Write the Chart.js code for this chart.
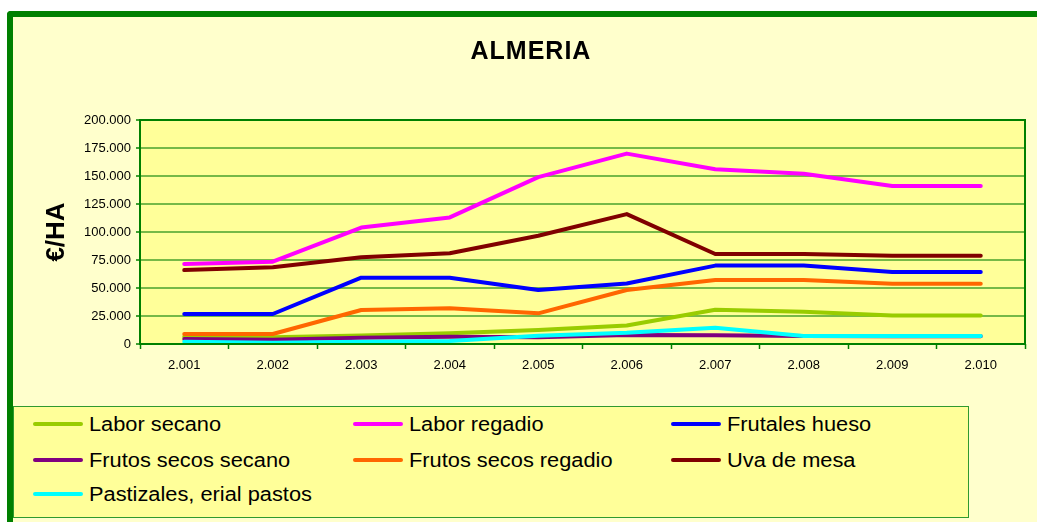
<!DOCTYPE html>
<html>
<head>
<meta charset="utf-8">
<script src="https://cdn.jsdelivr.net/npm/chart.js@4.4.1/dist/chart.umd.min.js"></script>
<style>
  html, body { margin: 0; padding: 0; background: #ffffff; }
  body { width: 1037px; height: 522px; overflow: hidden; position: relative; font-family: "Liberation Sans", Arial, sans-serif; }
  #frame { position: absolute; left: 7px; top: 11px; width: 1100px; height: 600px; background: #FFFFCC;
           border-left: 6px solid #008000; border-top: 6px solid #008000; border-top-left-radius: 4px; }
  #chart { position: absolute; left: 0; top: 0; }
  #title { position: absolute; left: 331px; width: 400px; top: 34px; text-align: center; font-weight: bold;
           font-size: 25px; letter-spacing: 1px; color: #000; line-height: 32px; }
  #legend { position: absolute; left: 13px; top: 406px; width: 954px; height: 110px; background: #FFFF99;
            border: 1px solid #2f9a2f; }
  .item { position: absolute; height: 24px; }
  .swatch { position: absolute; left: 0; top: 10px; width: 50px; height: 4px; border-radius: 2px; }
  .label { position: absolute; left: 56px; top: 0; white-space: nowrap; font-size: 20px; line-height: 24px; color: #000;
           transform: scaleX(1.09); transform-origin: left center; }
</style>
</head>
<body>
<div id="frame"></div>
<canvas id="chart" width="1037" height="400"></canvas>
<div id="title">ALMERIA</div>
<div id="legend"></div>
<script>
const categories = ['2.001','2.002','2.003','2.004','2.005','2.006','2.007','2.008','2.009','2.010'];
const yTickLabels = ['0','25.000','50.000','75.000','100.000','125.000','150.000','175.000','200.000'];
const seriesNames = ['Labor secano','Labor regadio','Frutales hueso','Frutos secos secano','Frutos secos regadio','Uva de mesa','Pastizales, erial pastos'];
const seriesColors = ['#99CC00','#FF00FF','#0000FF','#800080','#FF6600','#800000','#00FFFF'];

const laborSecano        = [6500, 6000, 7500, 9500, 12500, 16500, 30500, 28800, 25500, 25500];
const laborRegadio       = [71400, 73500, 104000, 113000, 149000, 170000, 156000, 152000, 141000, 141000];
const frutalesHueso      = [26800, 26800, 59200, 59200, 48200, 54000, 70000, 70000, 64300, 64300];
const frutosSecosSecano  = [4500, 3800, 5600, 6500, 6000, 8000, 7800, 7100, 7000, 7000];
const frutosSecosRegadio = [8900, 8900, 30400, 31900, 27400, 48200, 57100, 57100, 53900, 53900];
const uvaDeMesa          = [66000, 68500, 77400, 81000, 96700, 116000, 80400, 80400, 78900, 78900];
const pastizales         = [2100, 1200, 2000, 2700, 7400, 10100, 14600, 7100, 7100, 7100];

const seriesValues = [laborSecano, laborRegadio, frutalesHueso, frutosSecosSecano, frutosSecosRegadio, uvaDeMesa, pastizales];

const datasets = seriesValues.map((vals, i) => ({
  label: seriesNames[i],
  data: vals,
  borderColor: seriesColors[i],
  backgroundColor: seriesColors[i],
  borderWidth: 4,
  pointRadius: 0,
  pointHoverRadius: 0,
  tension: 0,
  fill: false,
  borderCapStyle: 'round',
  borderJoinStyle: 'round',
  order: seriesValues.length - 1 - i
}));

const plotDecor = {
  id: 'plotDecor',
  beforeDraw(chart) {
    const a = chart.chartArea, ctx = chart.ctx;
    ctx.save();
    ctx.fillStyle = '#FFFF99';
    ctx.fillRect(a.left, a.top, a.right - a.left, a.bottom - a.top);
    ctx.restore();
  },
  afterDatasetsDraw(chart) {
    const a = chart.chartArea, ctx = chart.ctx;
    ctx.save();
    ctx.strokeStyle = '#008000';
    ctx.lineWidth = 2;
    ctx.strokeRect(a.left, a.top, a.right - a.left, a.bottom - a.top);
    ctx.restore();
  }
};

const tickFont = { family: '"Liberation Sans", Arial, sans-serif', size: 13 };

new Chart(document.getElementById('chart'), {
  type: 'line',
  data: { labels: categories, datasets },
  plugins: [plotDecor],
  options: {
    responsive: false,
    devicePixelRatio: 1,
    animation: false,
    layout: { padding: { left: 0, right: 12, top: 120, bottom: 0 } },
    plugins: { legend: { display: false }, title: { display: false }, tooltip: { enabled: false } },
    scales: {
      x: {
        type: 'category',
        offset: true,
        border: { display: false },
        grid: { offset: true, drawOnChartArea: false, drawTicks: true, tickLength: 5, tickColor: '#008000', tickWidth: 1.5 },
        ticks: { color: '#000', font: tickFont, padding: 9, maxRotation: 0, autoSkip: false },
        afterFit(s) { s.height = 56; }
      },
      y: {
        min: 0, max: 200000,
        border: { display: false },
        grid: { color: '#76b947', lineWidth: 2, drawTicks: true, tickLength: 4, tickColor: '#008000', tickWidth: 1.5 },
        ticks: { stepSize: 25000, color: '#000', font: tickFont, padding: 5,
                 callback: (v, idx) => yTickLabels[idx] },
        title: { display: true, text: '€/HA', color: '#000',
                 font: { family: '"Liberation Sans", Arial, sans-serif', size: 26, weight: 'bold' },
                 padding: { top: 41, bottom: 0 } },
        afterFit(s) { s.width = 140; }
      }
    }
  }
});

// Legend (HTML) built from the same arrays
const legend = document.getElementById('legend');
const colX = [19, 339, 657];   // relative to legend box
const rowY = [5, 41, 75];
seriesNames.forEach((name, i) => {
  const it = document.createElement('div');
  it.className = 'item';
  it.style.left = colX[i % 3] + 'px';
  it.style.top = rowY[Math.floor(i / 3)] + 'px';
  const sw = document.createElement('div');
  sw.className = 'swatch';
  sw.style.background = seriesColors[i];
  const lb = document.createElement('span');
  lb.className = 'label';
  lb.textContent = name;
  it.appendChild(sw);
  it.appendChild(lb);
  legend.appendChild(it);
});
</script>
</body>
</html>
